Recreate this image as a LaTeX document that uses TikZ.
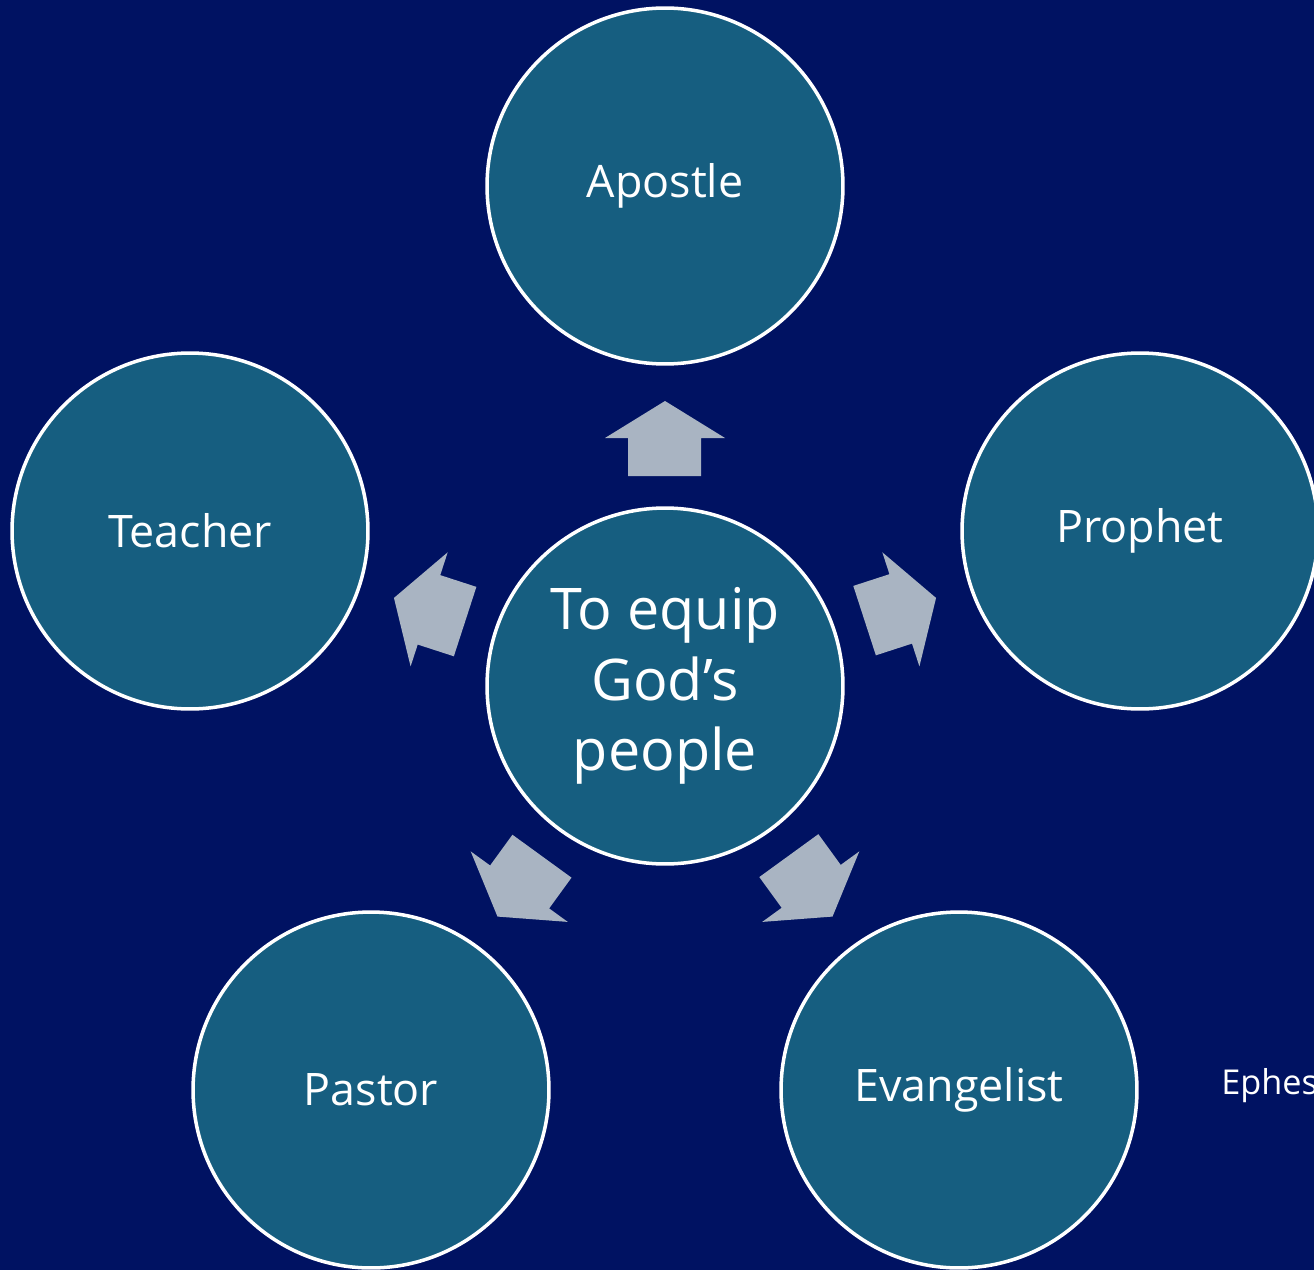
\documentclass[tikz,border=0pt]{standalone}
\usepackage{fontspec}
\setmainfont{Open Sans}
\definecolor{navy}{RGB}{0,18,98}
\definecolor{rolefill}{RGB}{22,94,128}
\definecolor{arrowgrey}{RGB}{169,180,194}
\tikzset{
  role/.style={circle,draw=white,line width=2pt,fill=rolefill,minimum size=7.12cm,
    text=white,font=\fontsize{25.5}{30}\selectfont},
  gift/.style={fill=arrowgrey}
}
\begin{document}
\begin{tikzpicture}[x=0.02cm,y=-0.02cm]
      \fill[navy] (0,0) rectangle (1314,1270);
      \useasboundingbox (0,0) rectangle (1314,1270);
      \node[role,align=center,font=\fontsize{32.7}{40}\selectfont] (equip) at (665,686) {To equip\\God’s\\people};
      \node[role] (apostle) at (665,186) {Apostle};
      \node[role] (prophet) at (1140,531) {Prophet};
      \node[role] (evangelist) at (959,1090) {Evangelist};
      \node[role] (pastor) at (371,1090) {Pastor};
      \node[role] (teacher) at (190,531) {Teacher};
      % arrows out of the centre
      \foreach \a in {0,-72,-144,144,72}
        \fill[gift,shift={(equip.center)},rotate=\a]
          (-37,-210) -- (-37,-248) -- (-60,-248) -- (0,-285) -- (60,-248) -- (36,-248) -- (36,-210) -- cycle;
      \node[anchor=base west,text=white,font=\fontsize{19.5}{23}\selectfont,inner sep=0pt] (source) at (1221,1094) {Ephes};
    \end{tikzpicture}
\end{document}
